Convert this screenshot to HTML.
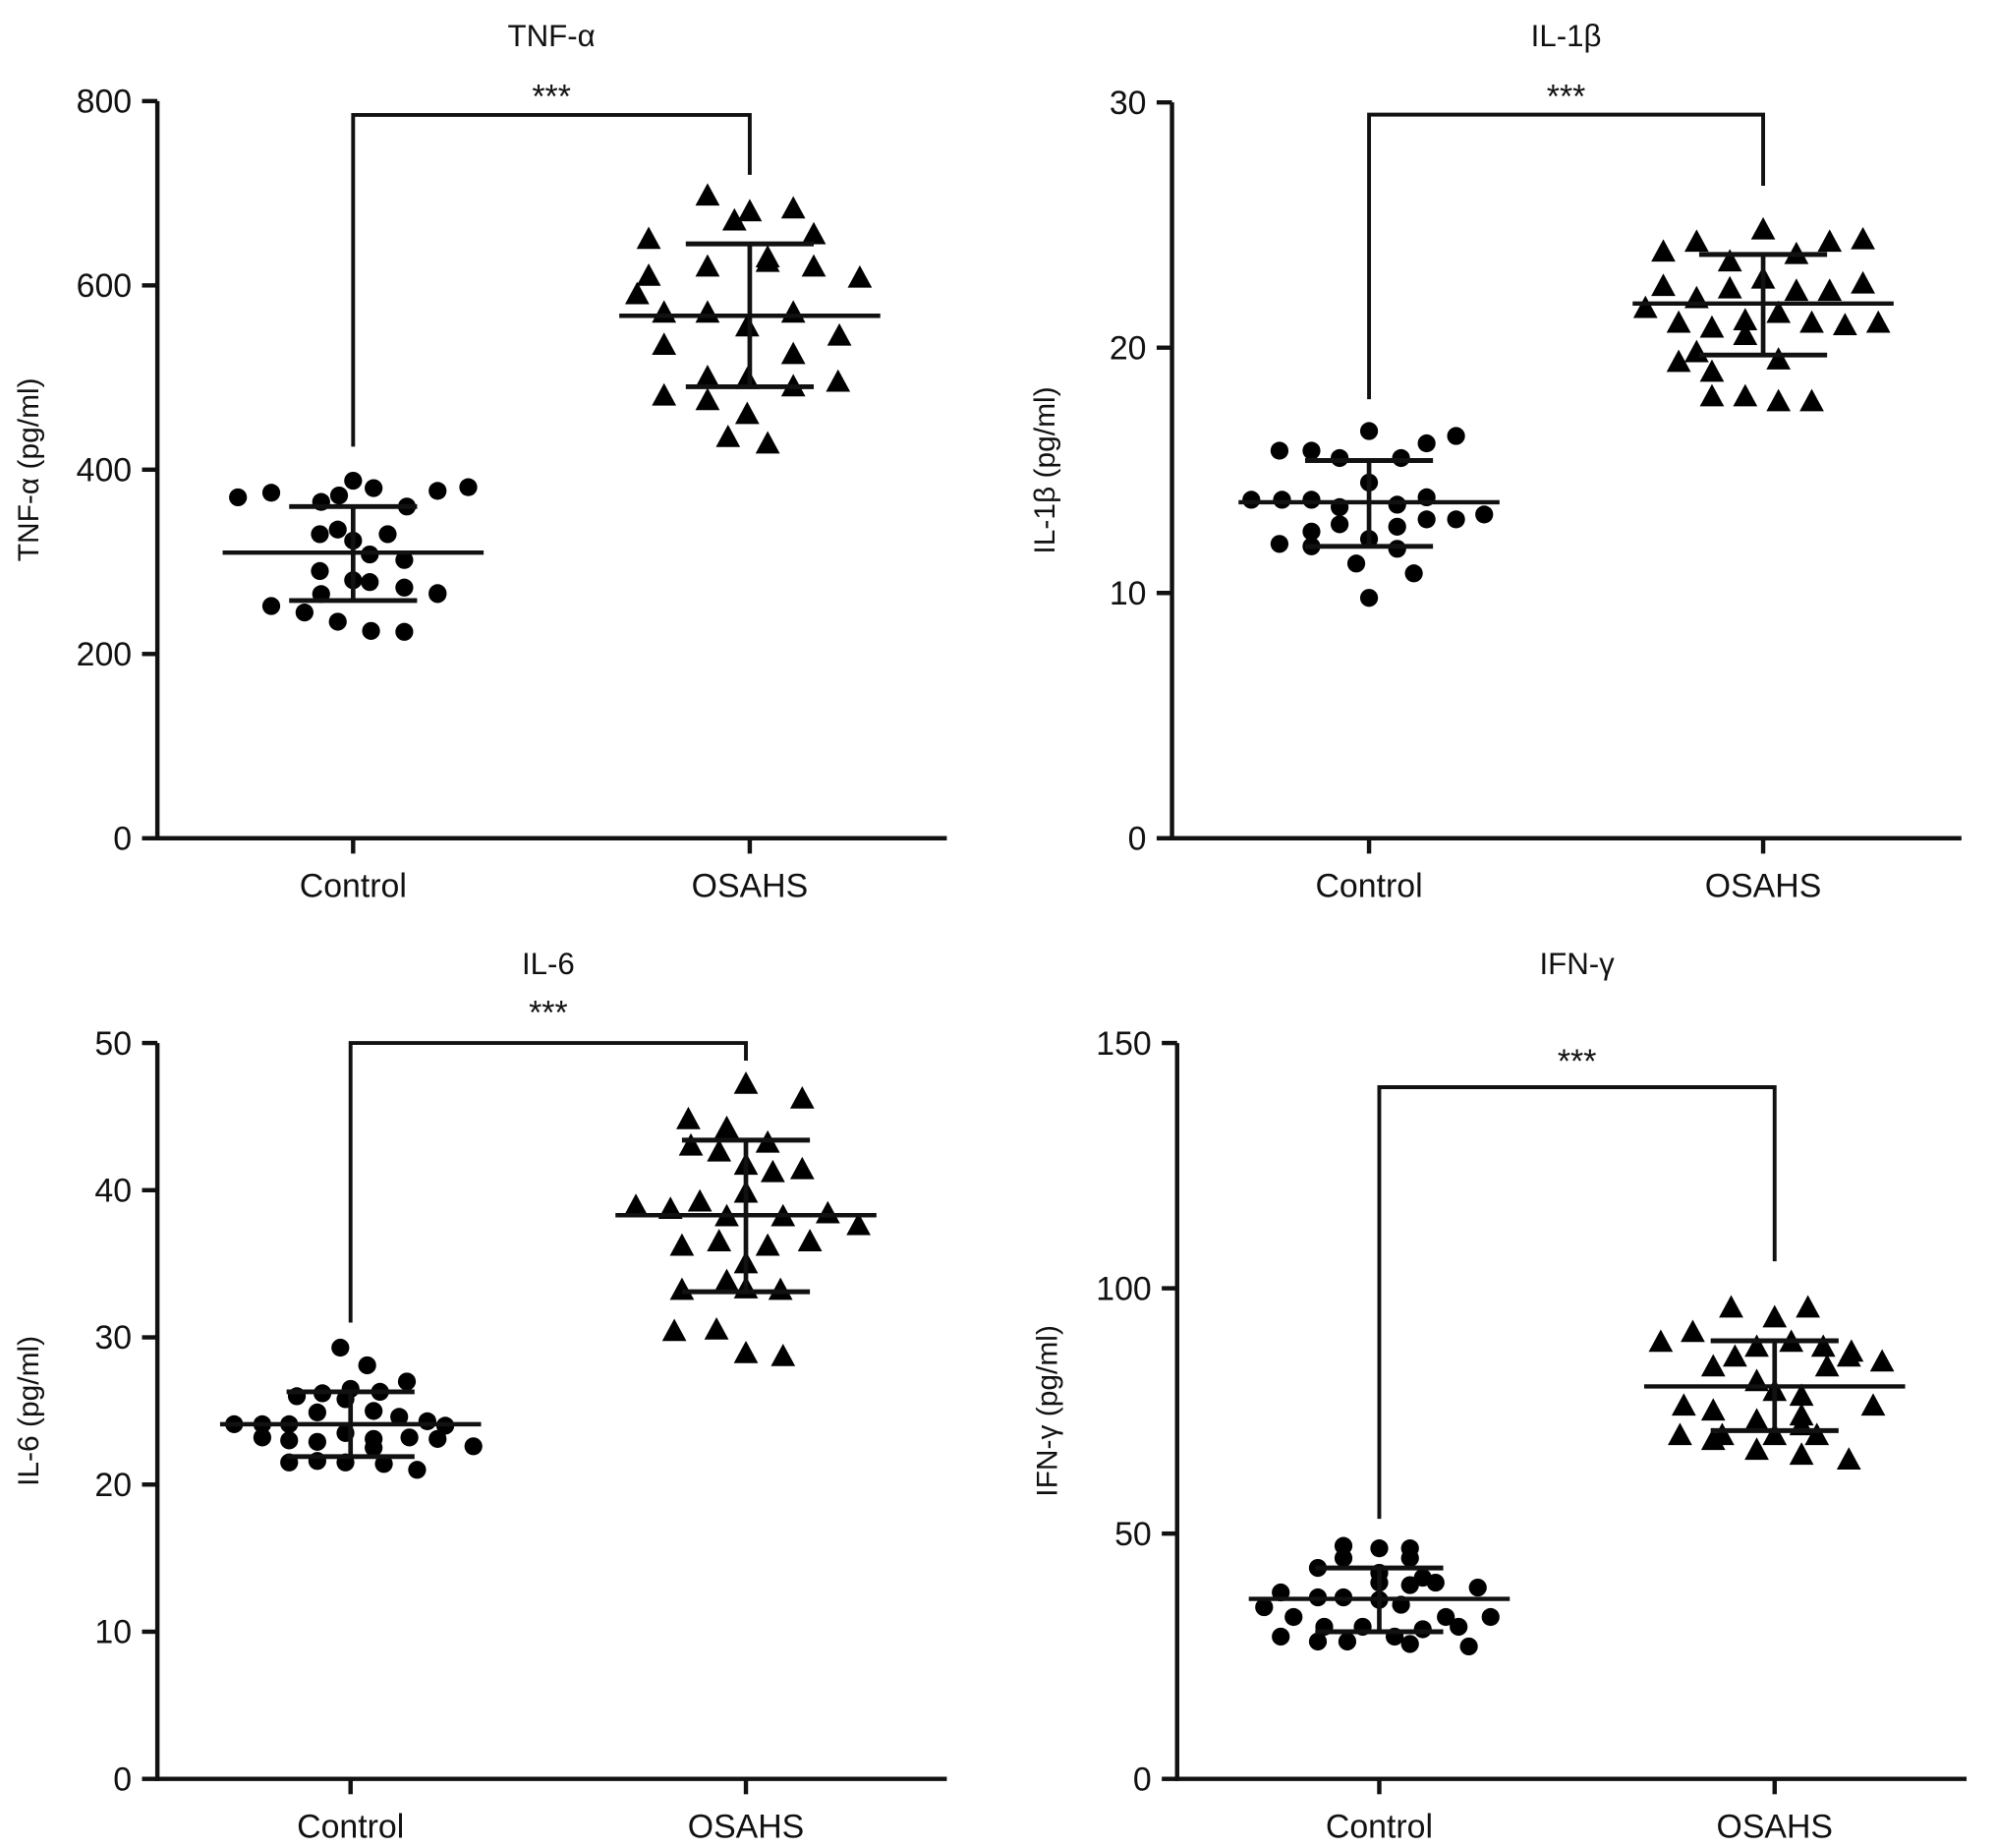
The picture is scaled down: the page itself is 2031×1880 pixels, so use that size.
<!DOCTYPE html>
<html><head><meta charset="utf-8"><style>
html,body{margin:0;padding:0;background:#fff;}
svg{display:block;}
text{font-family:"Liberation Sans",sans-serif;fill:#111;}
</style></head><body>
<svg id="fig" width="2031" height="1880" viewBox="0 0 1560 1444" preserveAspectRatio="none" xmlns="http://www.w3.org/2000/svg"></svg>
<script>
// ---- data (dx = horizontal jitter in px) ----
const groups = ["Control", "OSAHS"];
// TNF-alpha
const tnfCtrlVals = [370,375,365,372,380,388,360,377,381,330,335,330,323,308,302,290,280,278,272,266,252,245,235,225,224,265,265];
const tnfCtrlDx   = [-90,-64,-25,-11,16,0,42,66,90,-26,-12,27,0,13,40,-26,0,13,40,66,-64,-38,-12,14,40,-25,66];
const tnfOsVals = [697,670,680,683,650,655,620,630,625,620,610,608,590,570,570,555,570,535,525,545,500,498,490,495,480,475,460,435,428];
const tnfOsDx   = [-33,-12,0,34,-79,50,-33,14,14,50,-79,86,-88,-67,-33,-2,34,-67,34,70,-33,-2,34,69,-67,-33,-2,-17,14];
const tnfStats = {ctrl:[310,360,258], os:[567,645,490]};
// IL-1beta
const il1CtrlVals = [15.8,15.8,15.5,16.6,15.5,16.1,16.4,13.8,13.8,13.8,13.5,14.5,13.6,13.9,13.0,13.2,12.5,12.8,12.2,12.7,13.0,12.0,11.9,11.2,10.8,9.8,11.8];
const il1CtrlDx   = [-70,-45,-23,0,25,45,68,-92,-68,-45,-23,0,22,45,68,90,-45,-23,0,22,45,-70,-45,-10,35,0,22];
const il1OsVals = [23.9,24.3,23.5,24.8,23.8,24.3,24.4,22.5,22.0,22.4,22.8,22.3,22.3,22.6,21.6,21.0,20.8,21.1,21.4,21.0,20.9,21.0,19.4,19.0,20.5,19.5,18.0,18.0,17.8,17.8,19.8];
const il1OsDx   = [-78,-52,-26,0,26,52,78,-78,-52,-26,0,26,52,78,-92,-66,-40,-14,12,38,64,90,-66,-40,-14,12,-40,-14,12,38,-52];
const il1Stats = {ctrl:[13.7,15.4,11.9], os:[21.8,23.8,19.7]};
// IL-6
const il6CtrlVals = [29.3,28.1,26.0,26.2,26.5,26.3,27.0,24.1,24.1,24.1,24.9,25.8,25.0,24.6,24.3,24.0,23.2,23.0,22.9,23.5,23.1,23.2,23.1,22.6,21.5,21.6,21.5,21.4,21.0,22.5];
const il6CtrlDx   = [-8,13,-42,-22,0,23,44,-91,-69,-48,-26,-4,18,38,60,74,-69,-48,-26,-4,18,46,68,96,-48,-26,-4,26,52,18];
const il6OsVals = [47.2,44.8,44.2,46.2,43.0,42.6,43.2,41.7,41.2,41.4,38.9,38.7,39.2,38.2,39.8,38.2,38.4,37.6,36.2,36.5,36.2,36.5,33.2,33.8,35.0,33.2,30.4,30.5,33.3,28.9,28.7];
const il6OsDx   = [0,-45,-15,44,-43,-21,17,0,21,44,-86,-59,-36,-15,0,29,64,88,-50,-21,17,50,-50,-15,0,27,-56,-23,0,0,29];
const il6Stats = {ctrl:[24.1,26.3,21.9], os:[38.3,43.4,33.1]};
// IFN-gamma
const ifnCtrlVals = [47.5,47,47,45,45,43,42,41,40,39.5,40,39,38,37,37,36.5,35.5,35,33,33,31,31,30.5,31,33,29,28,28,27.5,27,29];
const ifnCtrlDx   = [-28,0,24,-28,24,-48,0,34,0,24,44,77,-77,-48,-28,0,17,-90,-67,52,-43,-13,34,62,87,-77,-48,-25,24,70,12];
const ifnOsVals = [96,94,96,89,91,88,89,88,87,85,84,86,84,86,81,79,78,76,75,76,74,73,70,70,69,70,67,66,65,72,70];
const ifnOsDx   = [-34,0,26,-89,-64,-14,13,38,60,84,-48,-31,41,58,-14,0,21,-71,-48,77,21,-14,0,-74,-48,33,-14,21,58,21,-41];
const ifnStats = {ctrl:[36.7,43,30], os:[80,89.3,71]};

const yTicks1 = [0,200,400,600,800];
const yTicks2 = [0,10,20,30];
const yTicks3 = [0,10,20,30,40,50];
const yTicks4 = [0,50,100,150];

const NS = "http://www.w3.org/2000/svg";
const svg = document.getElementById("fig");
function mk(tag, attrs, parent){
  const e = document.createElementNS(NS, tag);
  for (const k in attrs) e.setAttribute(k, attrs[k]);
  (parent||svg).appendChild(e);
  return e;
}
function line(g,x1,y1,x2,y2,w){ return mk("line",{x1,y1,x2,y2,stroke:"#111","stroke-width":w||3.4},g); }

function panel(p){
  const g = mk("g",{});
  
  
  const Y = v => p.y0 - (v - 0) / p.ymax * (p.y0 - p.yTop);
  const X = i => i === 0 ? p.cx : p.ox;
  const t = mk("text",{x:(p.cx+p.ox)/2, y:p.titleY, "text-anchor":"middle","font-size":24},g);
  t.textContent = p.title;
  
  
  const ya = line(g,p.ax,p.yTop,p.ax,p.y0+1.7,3.4);
  
  
  const xa = line(g,p.ax-1.7,p.y0,p.xEnd,p.y0,3.4);
  
  
  p.ticks.forEach(v=>{
    line(g,p.ax-12,Y(v),p.ax,Y(v),3.4);
    const tl = mk("text",{x:p.ax-20,y:Y(v)+9,"text-anchor":"end","font-size":26},g);
    tl.textContent = v;
    
    
  });
  groups.forEach((gname,i)=>{
    line(g,X(i),p.y0,X(i),p.y0+12,3.4);
    const xl = mk("text",{x:X(i),y:p.y0+46,"text-anchor":"middle","font-size":26},g);
    xl.textContent = gname;
    
    
  });
  const yl = mk("text",{x:0,y:0,"text-anchor":"middle","font-size":23,transform:`translate(${p.ylX},${(p.y0+p.yTop)/2}) rotate(-90)`},g);
  yl.textContent = p.ylabel;
  
  
  const br = mk("polyline",{points:`${p.cx},${Y(p.legL)} ${p.cx},${Y(p.brV)} ${p.ox},${Y(p.brV)} ${p.ox},${Y(p.legR)}`,fill:"none",stroke:"#111","stroke-width":3},g);
  
  
  const st = mk("text",{x:(p.cx+p.ox)/2,y:p.starY,"text-anchor":"middle","font-size":26},g);
  st.textContent = "***";
  
  
  p.ctrlVals.forEach((v,j)=>{
    const c = mk("circle",{cx:p.cx+p.ctrlDx[j],cy:Y(v),r:7,fill:"#000"},g);
    
    
  });
  p.osVals.forEach((v,j)=>{
    const x = p.ox+p.osDx[j], y = Y(v);
    const tr = mk("polygon",{points:`${x},${y-10} ${x-9.5},${y+7.5} ${x+9.5},${y+7.5}`,fill:"#000"},g);
    
    
  });
  [[p.cx,p.stats.ctrl],[p.ox,p.stats.os]].forEach(([cx,s],i)=>{
    const m = line(g,cx-102,Y(s[0]),cx+102,Y(s[0]),3.4);
    
    
    const e = line(g,cx,Y(s[1]),cx,Y(s[2]),3.6);
    
    
    line(g,cx-50,Y(s[1]),cx+50,Y(s[1]),3.8);
    line(g,cx-50,Y(s[2]),cx+50,Y(s[2]),3.8);
  });
}

panel({key:"tnf",title:"TNF-α",ylabel:"TNF-α (pg/ml)",ax:123,xEnd:740,y0:655,yTop:79,ymax:800,cx:276,ox:586,titleY:36,starY:84,ylX:30,
  ticks:yTicks1,brV:785,legL:425,legR:720,ctrlVals:tnfCtrlVals,ctrlDx:tnfCtrlDx,osVals:tnfOsVals,osDx:tnfOsDx,stats:tnfStats});
panel({key:"il1b",title:"IL-1β",ylabel:"IL-1β (pg/ml)",ax:916,xEnd:1533,y0:655,yTop:80,ymax:30,cx:1070,ox:1378,titleY:36,starY:84,ylX:824,
  ticks:yTicks2,brV:29.5,legL:17.9,legR:26.6,ctrlVals:il1CtrlVals,ctrlDx:il1CtrlDx,osVals:il1OsVals,osDx:il1OsDx,stats:il1Stats});
panel({key:"il6",title:"IL-6",ylabel:"IL-6 (pg/ml)",ax:123,xEnd:740,y0:1390,yTop:815,ymax:50,cx:274,ox:583,titleY:761,starY:800,ylX:30,
  ticks:yTicks3,brV:50,legL:31,legR:48.8,ctrlVals:il6CtrlVals,ctrlDx:il6CtrlDx,osVals:il6OsVals,osDx:il6OsDx,stats:il6Stats});
panel({key:"ifng",title:"IFN-γ",ylabel:"IFN-γ (pg/ml)",ax:920,xEnd:1537,y0:1390,yTop:815,ymax:150,cx:1078,ox:1387,titleY:761,starY:838,ylX:826,
  ticks:yTicks4,brV:141,legL:53,legR:105.5,ctrlVals:ifnCtrlVals,ctrlDx:ifnCtrlDx,osVals:ifnOsVals,osDx:ifnOsDx,stats:ifnStats});
</script>
</body></html>
